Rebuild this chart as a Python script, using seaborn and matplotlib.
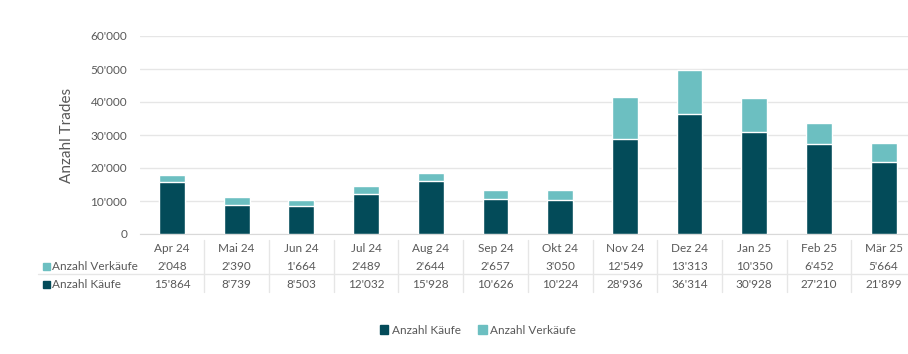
import pandas as pd
import matplotlib
matplotlib.use("Agg")
import matplotlib.pyplot as plt
import matplotlib.patches as mpatches
import seaborn as sns

# data
months = ["Apr 24", "Mai 24", "Jun 24", "Jul 24", "Aug 24", "Sep 24",
          "Okt 24", "Nov 24", "Dez 24", "Jan 25", "Feb 25", "Mär 25"]
kaeufe = [15864, 8739, 8503, 12032, 15928, 10626, 10224, 28936, 36314, 30928, 27210, 21899]
verkaeufe = [2048, 2390, 1664, 2489, 2644, 2657, 3050, 12549, 13313, 10350, 6452, 5664]

dark = "#034b59"
light = "#6cbfc1"
txt = "#595959"
grid = "#e6e6e6"

def fmt(v):
    return f"{int(v):,}".replace(",", "'")

df = pd.DataFrame({"Monat": months, "Käufe": kaeufe, "Verkäufe": verkaeufe})
df["Total"] = df["Käufe"] + df["Verkäufe"]

sns.set_style("white")
plt.rcParams["font.family"] = ["Lato", "DejaVu Sans"]

W, H = 908, 354
fig = plt.figure(figsize=(W / 100, H / 100), dpi=100)
# plot area in pixels: x -0.5 -> 139.6, 11.5 -> 916 ; y 0 -> 234, 60000 -> 36
ax = fig.add_axes([139.6 / W, (H - 234) / H, 776.4 / W, 198 / H])

sns.barplot(data=df, x="Monat", y="Total", color=light, width=0.4,
            saturation=1, ax=ax, zorder=3)
sns.barplot(data=df, x="Monat", y="Käufe", color=dark, width=0.4,
            saturation=1, ax=ax, zorder=4)

ax.set_xlim(-0.5, 11.5)
ax.set_ylim(0, 60000)
ax.set_yticks(range(0, 60001, 10000))
ax.set_yticklabels([fmt(v) for v in range(0, 60001, 10000)], color=txt, fontsize=8.5)
ax.tick_params(axis="y", length=0, pad=9)
ax.set_xticks([])
ax.set_xlabel("")
ax.set_ylabel("Anzahl Trades", color=txt, fontsize=11, labelpad=12)
ax.grid(axis="y", color=grid, linewidth=1, zorder=0)
for s in ["top", "right", "left"]:
    ax.spines[s].set_visible(False)
ax.spines["bottom"].set_color("#d9d9d9")

# data table under the plot
trans = ax.get_xaxis_transform()
def ay(py):
    return (234 - py) / 198

for i, m in enumerate(months):
    ax.text(i, ay(249), m, transform=trans, ha="center", va="center",
            color=txt, fontsize=8.5, clip_on=False)
    ax.text(i, ay(266), fmt(verkaeufe[i]), transform=trans, ha="center",
            va="center", color=txt, fontsize=8.5, clip_on=False)
    ax.text(i, ay(284), fmt(kaeufe[i]), transform=trans, ha="center",
            va="center", color=txt, fontsize=8.5, clip_on=False)
for i in range(len(months) - 1):
    ax.plot([i + 0.5, i + 0.5], [ay(240), ay(292)], transform=trans,
            color=grid, linewidth=1, clip_on=False)
fig.add_artist(plt.Line2D([38 / W, 1], [(H - 274) / H] * 2,
                          transform=fig.transFigure, color=grid, linewidth=1))

for py, name, col in [(266, "Anzahl Verkäufe", light), (284, "Anzahl Käufe", dark)]:
    fig.patches.append(mpatches.Rectangle((43 / W, (H - py - 3.5) / H), 7 / W, 7 / H,
                                          transform=fig.transFigure, color=col))
    fig.text(52 / W, (H - py) / H, name, ha="left", va="center",
             color=txt, fontsize=8.5)

handles = [mpatches.Patch(color=dark, label="Anzahl Käufe"),
           mpatches.Patch(color=light, label="Anzahl Verkäufe")]
fig.legend(handles=handles, loc="center", bbox_to_anchor=(478 / W, (H - 330) / H),
           ncol=2, frameon=False, fontsize=8.5, labelcolor=txt,
           handlelength=0.7, handleheight=0.7, handletextpad=0.3, columnspacing=1.5)

fig.savefig("out.png", dpi=100)
